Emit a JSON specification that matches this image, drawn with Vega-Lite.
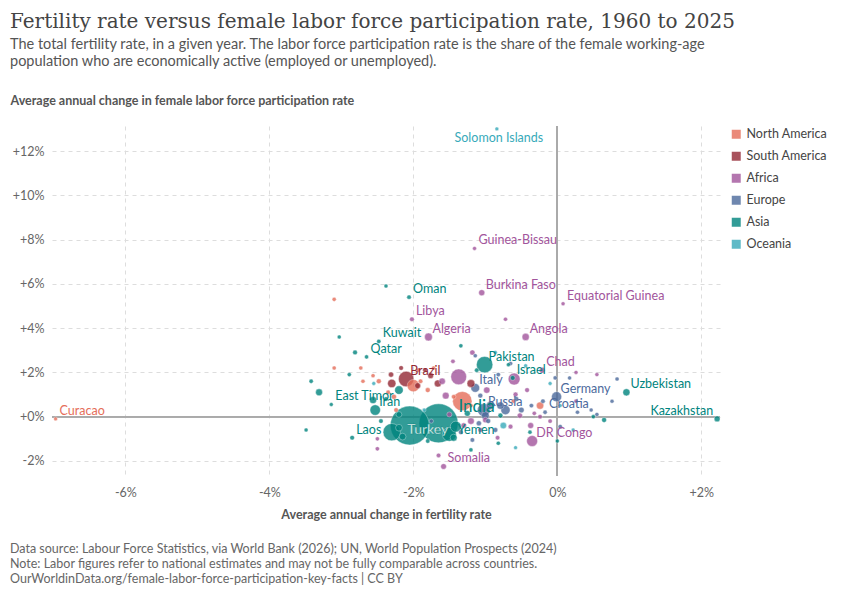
{
  "$schema": "https://vega.github.io/schema/vega-lite/v6.json",
  "background": "white",
  "padding": {"left": 10, "top": 12, "right": 10, "bottom": 6},
  "title": {
    "text": "Fertility rate versus female labor force participation rate, 1960 to 2025",
    "subtitle": ["The total fertility rate, in a given year. The labor force participation rate is the share of the female working-age", "population who are economically active (employed or unemployed)."],
    "anchor": "start", "font": "DejaVu Serif", "fontSize": 20, "fontWeight": "normal", "color": "#444",
    "subtitleFont": "Lato", "subtitleFontSize": 14.5, "subtitleColor": "#555", "subtitlePadding": 6, "offset": 26
  },
  "config": {
    "view": {"stroke": null},
    "font": "Lato",
    "axis": {"labelFont": "Lato", "labelColor": "#666", "labelFontSize": 12.5, "titleFont": "Lato", "titleColor": "#555", "titleFontSize": 12.5, "titleFontWeight": "bold", "domain": false, "ticks": false, "gridDash": [4, 4], "gridColor": "#ddd"},
    "legend": {"labelFont": "Lato", "labelFontSize": 12.5, "labelColor": "#444"}
  },
  "vconcat": [
    {
      "width": 668,
      "height": 350,
      "data": {"values": [
        {"n": "Solomon Islands", "r": "Oceania", "x": -0.84, "y": 13.0, "p": 1},
        {"n": "Guinea-Bissau", "r": "Africa", "x": -1.15, "y": 7.6, "p": 2},
        {"n": "Burkina Faso", "r": "Africa", "x": -1.05, "y": 5.6, "p": 22},
        {"n": "Equatorial Guinea", "r": "Africa", "x": 0.08, "y": 5.1, "p": 2},
        {"n": "Oman", "r": "Asia", "x": -2.06, "y": 5.4, "p": 5},
        {"n": "Libya", "r": "Africa", "x": -2.02, "y": 4.4, "p": 7},
        {"n": "Kuwait", "r": "Asia", "x": -2.48, "y": 3.4, "p": 4},
        {"n": "Algeria", "r": "Africa", "x": -1.79, "y": 3.6, "p": 45},
        {"n": "Angola", "r": "Africa", "x": -0.44, "y": 3.6, "p": 36},
        {"n": "Qatar", "r": "Asia", "x": -2.65, "y": 2.7, "p": 3},
        {"n": "Pakistan", "r": "Asia", "x": -1.01, "y": 2.35, "p": 240},
        {"n": "Chad", "r": "Africa", "x": -0.21, "y": 2.1, "p": 18},
        {"n": "Brazil", "r": "South America", "x": -2.1, "y": 1.7, "p": 210},
        {"n": "Israel", "r": "Asia", "x": -0.62, "y": 1.75, "p": 9},
        {"n": "Italy", "r": "Europe", "x": -1.14, "y": 1.3, "p": 59},
        {"n": "Germany", "r": "Europe", "x": -0.01, "y": 0.9, "p": 83},
        {"n": "Uzbekistan", "r": "Asia", "x": 0.96, "y": 1.1, "p": 35},
        {"n": "Kazakhstan", "r": "Asia", "x": 2.22, "y": -0.1, "p": 20},
        {"n": "Iran", "r": "Asia", "x": -2.53, "y": 0.3, "p": 90},
        {"n": "East Timor", "r": "Asia", "x": -3.14, "y": 0.55, "p": 1},
        {"n": "India", "r": "Asia", "x": -1.65, "y": -0.3, "p": 1420},
        {"n": "Turkey", "r": "Asia", "x": -2.05, "y": -0.4, "p": 1410},
        {"n": "Russia", "r": "Europe", "x": -1.02, "y": 0.3, "p": 145},
        {"n": "Croatia", "r": "Europe", "x": -0.17, "y": 0.2, "p": 4},
        {"n": "Curacao", "r": "North America", "x": -6.97, "y": -0.1, "p": 1},
        {"n": "Laos", "r": "Asia", "x": -2.85, "y": -0.95, "p": 7},
        {"n": "Yemen", "r": "Asia", "x": -1.44, "y": -0.95, "p": 33},
        {"n": "DR Congo", "r": "Africa", "x": -0.35, "y": -1.1, "p": 100},
        {"n": "Somalia", "r": "Africa", "x": -1.58, "y": -2.25, "p": 17},
        {"r": "North America", "x": -1.32, "y": 0.7, "p": 340},
        {"r": "North America", "x": -2.0, "y": 1.4, "p": 130},
        {"r": "Asia", "x": -2.3, "y": -0.7, "p": 270},
        {"r": "Asia", "x": -1.5, "y": -0.8, "p": 170},
        {"r": "Africa", "x": -1.37, "y": 1.8, "p": 220},
        {"r": "Africa", "x": -0.6, "y": 1.7, "p": 120},
        {"r": "North America", "x": -3.1, "y": 5.3, "p": 3},
        {"r": "North America", "x": -3.1, "y": 2.2, "p": 3},
        {"r": "North America", "x": -2.73, "y": 2.2, "p": 3},
        {"r": "North America", "x": -2.48, "y": 1.6, "p": 10},
        {"r": "North America", "x": -2.27, "y": 0.9, "p": 11},
        {"r": "North America", "x": -2.35, "y": 1.1, "p": 5},
        {"r": "North America", "x": -1.93, "y": 2.1, "p": 3},
        {"r": "North America", "x": -1.9, "y": 1.6, "p": 6},
        {"r": "North America", "x": -1.8, "y": 1.2, "p": 10},
        {"r": "North America", "x": -1.72, "y": 2.2, "p": 3},
        {"r": "North America", "x": -2.24, "y": 0.3, "p": 6},
        {"r": "North America", "x": -2.56, "y": 1.85, "p": 3},
        {"r": "North America", "x": -2.7, "y": 1.6, "p": 3},
        {"r": "North America", "x": -1.44, "y": 0.9, "p": 6},
        {"r": "North America", "x": -1.2, "y": 0.5, "p": 4},
        {"r": "North America", "x": -0.61, "y": 0.7, "p": 3},
        {"r": "North America", "x": -0.24, "y": 0.5, "p": 38},
        {"r": "South America", "x": -2.31, "y": 1.9, "p": 12},
        {"r": "South America", "x": -2.17, "y": 2.2, "p": 7},
        {"r": "South America", "x": -1.84, "y": 2.1, "p": 3},
        {"r": "South America", "x": -1.76, "y": 1.85, "p": 18},
        {"r": "South America", "x": -1.94, "y": 1.4, "p": 20},
        {"r": "South America", "x": -1.2, "y": 1.5, "p": 45},
        {"r": "South America", "x": -1.66, "y": 1.5, "p": 34},
        {"r": "South America", "x": -2.3, "y": 1.5, "p": 52},
        {"r": "Africa", "x": -1.45, "y": 2.5, "p": 5},
        {"r": "Africa", "x": -0.72, "y": 4.4, "p": 3},
        {"r": "Africa", "x": -1.18, "y": 2.9, "p": 12},
        {"r": "Africa", "x": -1.55, "y": 0.95, "p": 30},
        {"r": "Africa", "x": -0.98, "y": 1.2, "p": 25},
        {"r": "Africa", "x": -0.58, "y": 1.0, "p": 10},
        {"r": "Africa", "x": -0.42, "y": 1.2, "p": 8},
        {"r": "Africa", "x": -0.24, "y": 0.0, "p": 6},
        {"r": "Africa", "x": -0.1, "y": -0.2, "p": 5},
        {"r": "Africa", "x": -0.52, "y": 0.05, "p": 12},
        {"r": "Africa", "x": -0.37, "y": -0.4, "p": 20},
        {"r": "Africa", "x": -1.07, "y": -0.6, "p": 9},
        {"r": "Africa", "x": -1.0, "y": -0.15, "p": 15},
        {"r": "Africa", "x": -0.83, "y": -0.95, "p": 6},
        {"r": "Africa", "x": -0.32, "y": 0.15, "p": 4},
        {"r": "Africa", "x": 0.26, "y": 0.7, "p": 3},
        {"r": "Africa", "x": 0.55, "y": 1.9, "p": 2},
        {"r": "Africa", "x": 0.26, "y": 2.0, "p": 2},
        {"r": "Africa", "x": -2.5, "y": -1.0, "p": 3},
        {"r": "Africa", "x": -2.5, "y": -1.45, "p": 4},
        {"r": "Africa", "x": -1.65, "y": -1.75, "p": 6},
        {"r": "Africa", "x": -1.2, "y": -0.2, "p": 28},
        {"r": "Africa", "x": -1.3, "y": -0.4, "p": 14},
        {"r": "Africa", "x": -0.65, "y": -0.45, "p": 8},
        {"r": "Africa", "x": -1.5, "y": 0.1, "p": 11},
        {"r": "Africa", "x": -1.6, "y": 1.6, "p": 25},
        {"r": "Europe", "x": -1.14, "y": 2.75, "p": 3},
        {"r": "Europe", "x": -1.07, "y": 0.95, "p": 10},
        {"r": "Europe", "x": -0.93, "y": 0.5, "p": 47},
        {"r": "Europe", "x": -0.79, "y": 0.5, "p": 38},
        {"r": "Europe", "x": -0.96, "y": -0.2, "p": 10},
        {"r": "Europe", "x": -1.09, "y": -0.3, "p": 11},
        {"r": "Europe", "x": -0.86, "y": -0.6, "p": 9},
        {"r": "Europe", "x": -0.72, "y": 0.3, "p": 67},
        {"r": "Europe", "x": -0.57, "y": 0.8, "p": 10},
        {"r": "Europe", "x": -0.5, "y": 0.3, "p": 17},
        {"r": "Europe", "x": -0.36, "y": 0.5, "p": 5},
        {"r": "Europe", "x": -0.2, "y": 0.7, "p": 6},
        {"r": "Europe", "x": 0.04, "y": -0.45, "p": 5},
        {"r": "Europe", "x": 0.28, "y": 0.2, "p": 3},
        {"r": "Europe", "x": 0.47, "y": 0.3, "p": 2},
        {"r": "Europe", "x": 0.55, "y": 0.1, "p": 3},
        {"r": "Europe", "x": 0.76, "y": 0.7, "p": 2},
        {"r": "Europe", "x": 0.83, "y": 1.7, "p": 3},
        {"r": "Europe", "x": 0.17, "y": 1.75, "p": 2},
        {"r": "Europe", "x": -0.03, "y": 1.75, "p": 3},
        {"r": "Europe", "x": -0.65, "y": 2.4, "p": 4},
        {"r": "Europe", "x": -0.82, "y": 1.9, "p": 5},
        {"r": "Europe", "x": -1.0, "y": 0.05, "p": 44},
        {"r": "Europe", "x": -1.34, "y": -0.7, "p": 9},
        {"r": "Europe", "x": -1.18, "y": -1.05, "p": 6},
        {"r": "Europe", "x": -1.75, "y": -0.2, "p": 4},
        {"r": "Asia", "x": -2.38, "y": 5.9, "p": 2},
        {"r": "Asia", "x": -3.03, "y": 3.6, "p": 2},
        {"r": "Asia", "x": -2.81, "y": 2.9, "p": 8},
        {"r": "Asia", "x": -3.42, "y": 1.6, "p": 4},
        {"r": "Asia", "x": -3.31, "y": 1.1, "p": 32},
        {"r": "Asia", "x": -3.49, "y": -0.6, "p": 2},
        {"r": "Asia", "x": -2.89, "y": 1.9, "p": 3},
        {"r": "Asia", "x": -2.56, "y": 0.75, "p": 34},
        {"r": "Asia", "x": -2.38, "y": 0.8, "p": 5},
        {"r": "Asia", "x": -2.45, "y": -0.2, "p": 6},
        {"r": "Asia", "x": -2.2, "y": -0.5, "p": 30},
        {"r": "Asia", "x": -2.15, "y": -0.9, "p": 30},
        {"r": "Asia", "x": -1.8, "y": -1.1, "p": 5},
        {"r": "Asia", "x": -1.41, "y": -0.45, "p": 100},
        {"r": "Asia", "x": -1.2, "y": -1.5, "p": 3},
        {"r": "Asia", "x": -0.79, "y": 0.05, "p": 10},
        {"r": "Asia", "x": -0.82, "y": -1.2, "p": 3},
        {"r": "Asia", "x": -0.38, "y": -0.7, "p": 3},
        {"r": "Asia", "x": 0.0, "y": -1.1, "p": 2},
        {"r": "Asia", "x": 0.5, "y": 0.0, "p": 3},
        {"r": "Asia", "x": 0.65, "y": -0.15, "p": 10},
        {"r": "Asia", "x": -1.34, "y": 3.2, "p": 3},
        {"r": "Asia", "x": -1.12, "y": 2.1, "p": 5},
        {"r": "Asia", "x": -0.68, "y": 2.35, "p": 2},
        {"r": "Asia", "x": -2.2, "y": 0.1, "p": 18},
        {"r": "Asia", "x": -2.2, "y": 1.2, "p": 55},
        {"r": "Asia", "x": -1.25, "y": 0.15, "p": 20},
        {"r": "Oceania", "x": -0.86, "y": 2.9, "p": 1},
        {"r": "Oceania", "x": -0.44, "y": 2.3, "p": 1},
        {"r": "Oceania", "x": -0.1, "y": 1.5, "p": 1},
        {"r": "Oceania", "x": -0.58, "y": -1.4, "p": 1},
        {"r": "Oceania", "x": 0.22, "y": -0.6, "p": 1},
        {"r": "Oceania", "x": 0.04, "y": 0.5, "p": 1},
        {"r": "Oceania", "x": -0.75, "y": -0.4, "p": 26},
        {"r": "Oceania", "x": -2.55, "y": 1.5, "p": 1},
        {"r": "Oceania", "x": -1.85, "y": 0.3, "p": 1}
      ]},
      "encoding": {
        "x": {"field": "x", "type": "quantitative", "title": "Average annual change in fertility rate",
          "scale": {"domain": [-7.02, 2.26], "nice": false},
          "axis": {"values": [-6, -4, -2, 0, 2], "labelExpr": "(datum.value > 0 ? '+' : '') + datum.value + '%'", "labelPadding": 10, "titlePadding": 10}},
        "y": {"field": "y", "type": "quantitative", "title": "Average annual change in female labor force participation rate",
          "scale": {"domain": [-2.68, 13.13], "nice": false},
          "axis": {"values": [-2, 0, 2, 4, 6, 8, 10, 12], "labelExpr": "(datum.value >= 0 ? '+' : '') + datum.value + '%'", "labelPadding": 8,
            "titleAngle": 0, "titleAnchor": "end", "titleAlign": "left", "titleX": -42, "titleY": -19}},
        "color": {"field": "r", "type": "nominal", "title": null,
          "scale": {"domain": ["North America", "South America", "Africa", "Europe", "Asia", "Oceania"],
            "range": ["#E56E5A", "#932834", "#A2559C", "#4C6A9C", "#00847E", "#38AABA"]},
          "legend": {"orient": "none", "legendX": 678, "legendY": 2, "symbolType": "square", "symbolSize": 110, "symbolOpacity": 0.8, "rowPadding": 5}}
      },
      "layer": [
        {"mark": {"type": "rule", "color": "#aaa", "strokeWidth": 1.2}, "encoding": {"x": {"datum": 0}, "y": null, "color": null}},
        {"mark": {"type": "rule", "color": "#aaa", "strokeWidth": 1.2}, "encoding": {"y": {"datum": 0}, "x": null, "color": null}},
        {
          "mark": {"type": "circle", "opacity": 0.8, "stroke": "white", "strokeWidth": 0.4},
          "encoding": {
            "size": {"field": "p", "type": "quantitative", "scale": {"domain": [0, 1400], "range": [14, 1500]}, "legend": null},
            "order": {"field": "p", "sort": "descending"}
          }
        },
        {
          "transform": [{"filter": "datum.n && datum.n != 'Kazakhstan' && datum.n != 'Solomon Islands' && datum.n != 'India' && datum.n != 'Turkey'"}],
          "mark": {"type": "text", "align": "left", "dx": 4, "dy": -8, "fontSize": 12.5},
          "encoding": {"text": {"field": "n"}}
        },
        {
          "transform": [{"filter": "datum.n == 'Kazakhstan'"}],
          "mark": {"type": "text", "align": "right", "dx": -4, "dy": -8, "fontSize": 12.5},
          "encoding": {"text": {"field": "n"}}
        },
        {
          "transform": [{"filter": "datum.n == 'Solomon Islands'"}],
          "mark": {"type": "text", "align": "center", "dx": 2, "dy": 9, "fontSize": 12.5},
          "encoding": {"text": {"field": "n"}}
        },
        {
          "transform": [{"filter": "datum.n == 'India'"}],
          "mark": {"type": "text", "align": "center", "dx": 38, "dy": -16, "fontSize": 17},
          "encoding": {"text": {"field": "n"}}
        },
        {
          "transform": [{"filter": "datum.n == 'Turkey'"}],
          "mark": {"type": "text", "align": "center", "dx": 18, "dy": 4, "fontSize": 14, "color": "white", "stroke": "#00847E", "strokeWidth": 0.3},
          "encoding": {"text": {"field": "n"}, "color": null}
        }
      ]
    },
    {
      "width": 790,
      "height": 46,
      "data": {"values": [
        {"i": 1, "t": "Data source: Labour Force Statistics, via World Bank (2026); UN, World Population Prospects (2024)"},
        {"i": 2, "t": "Note: Labor figures refer to national estimates and may not be fully comparable across countries."},
        {"i": 3, "t": "OurWorldinData.org/female-labor-force-participation-key-facts | CC BY"}
      ]},
      "mark": {"type": "text", "align": "left", "fontSize": 12.5, "color": "#666", "x": -42},
      "encoding": {
        "y": {"field": "i", "type": "ordinal", "axis": null},
        "text": {"field": "t"}
      }
    }
  ]
}
